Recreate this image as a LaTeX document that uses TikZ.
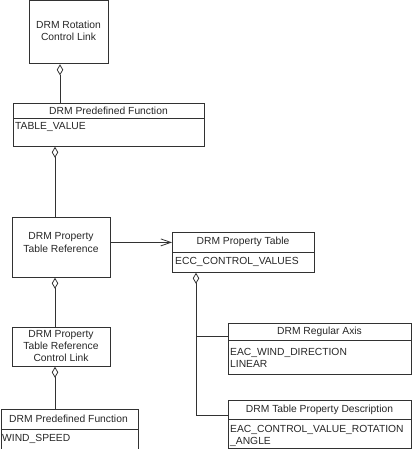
\documentclass[tikz,border=0pt]{standalone}
\usepackage{fontspec}
\setmainfont{Liberation Sans}
\usetikzlibrary{arrows.meta}
\tikzset{
  umlbox/.style={draw=linecol, line width=0.8pt, inner sep=0pt, anchor=north west},
  ttl/.style={inner sep=0pt, text=black!85, font=\fontsize{10.3}{12.3}\selectfont, align=center},
  attr/.style={inner sep=0pt, anchor=west, text=black!85, font=\fontsize{10.3}{12.3}\selectfont, align=left},
  conn/.style={draw=linecol, line width=0.8pt},
  agg/.style={conn, {Diamond[open, length=11pt, width=6.5pt, line width=0.8pt]}-},
  assoc/.style={conn, -{Straight Barb[length=10pt, width=7pt, line width=0.8pt]}},
}
\definecolor{linecol}{RGB}{50,50,50}
\begin{document}
\begin{tikzpicture}[x=1pt,y=-1pt]
\useasboundingbox (0,0) rectangle (413,449);
% boxes
\node[umlbox, minimum width=79pt, minimum height=63pt] (B1) at (29,0.5) {};
\node[umlbox, minimum width=191pt, minimum height=43pt] (B2) at (13,103) {};
\node[umlbox, minimum width=98pt, minimum height=60pt] (B3) at (12,217) {};
\node[umlbox, minimum width=142pt, minimum height=40pt] (B4) at (172,232) {};
\node[umlbox, minimum width=183pt, minimum height=51pt] (B5) at (228,323) {};
\node[umlbox, minimum width=183pt, minimum height=48pt] (B6) at (228,400) {};
\node[umlbox, minimum width=98pt, minimum height=39pt] (B7) at (12,327) {};
\node[umlbox, minimum width=137pt, minimum height=39.5pt] (B8) at (0.5,409) {};
% dividers
\draw[conn] ([yshift=-15pt]B2.north west) -- ([yshift=-15pt]B2.north east);
\draw[conn] ([yshift=-20pt]B4.north west) -- ([yshift=-20pt]B4.north east);
\draw[conn] ([yshift=-17pt]B5.north west) -- ([yshift=-17pt]B5.north east);
\draw[conn] ([yshift=-19pt]B6.north west) -- ([yshift=-19pt]B6.north east);
\draw[conn] ([yshift=-20pt]B8.north west) -- ([yshift=-20pt]B8.north east);
% texts
\node[ttl] (T1) at (68.5,31) {DRM Rotation\\Control Link};
\node[ttl] (T2) at (108.5,110.5) {DRM Predefined Function};
\node[attr] (A2) at (15,127) {TABLE\_VALUE};
\node[ttl] (T3) at (61,242.5) {DRM Property\\Table Reference};
\node[ttl] (T4) at (243,241.5) {DRM Property Table};
\node[attr] (A4) at (175,262) {ECC\_CONTROL\_VALUES};
\node[ttl] (T5) at (319.5,331.5) {DRM Regular Axis};
\node[attr] (A5) at (230,358) {EAC\_WIND\_DIRECTION\\LINEAR};
\node[ttl] (T6) at (319.5,409.5) {DRM Table Property Description};
\node[attr] (A6) at (230,436) {EAC\_CONTROL\_VALUE\_ROTATION\\\_ANGLE};
\node[ttl] (T7) at (61,346) {DRM Property\\Table Reference\\Control Link};
\node[ttl] (T8) at (68.5,418.5) {DRM Predefined Function};
\node[attr] (A8) at (2,438.5) {WIND\_SPEED};
% connector anchors
\coordinate (P1) at ([xshift=31pt]B1.south west);
\coordinate (P2) at ([xshift=42pt]B2.south west);
\coordinate (P3) at ([xshift=43pt]B3.south west);
\coordinate (P7) at ([xshift=43pt]B7.south west);
\coordinate (P4) at ([xshift=24pt]B4.south west);
\coordinate (E3) at ([yshift=5pt]B3.east);
\coordinate (J5) at ([yshift=-13pt]B5.north west);
\coordinate (J6) at ([yshift=-15pt]B6.north west);
% connectors
\draw[agg] (P1) -- (P1 |- B2.north);
\draw[agg] (P2) -- (P2 |- B3.north);
\draw[agg] (P3) -- (P3 |- B7.north);
\draw[agg] (P7) -- (P7 |- B8.north);
\draw[assoc] (E3) -- (E3 -| B4.west);
\draw[agg] (P4) |- (J6);
\draw[conn] (P4 |- J5) -- (J5);
\end{tikzpicture}
\end{document}
